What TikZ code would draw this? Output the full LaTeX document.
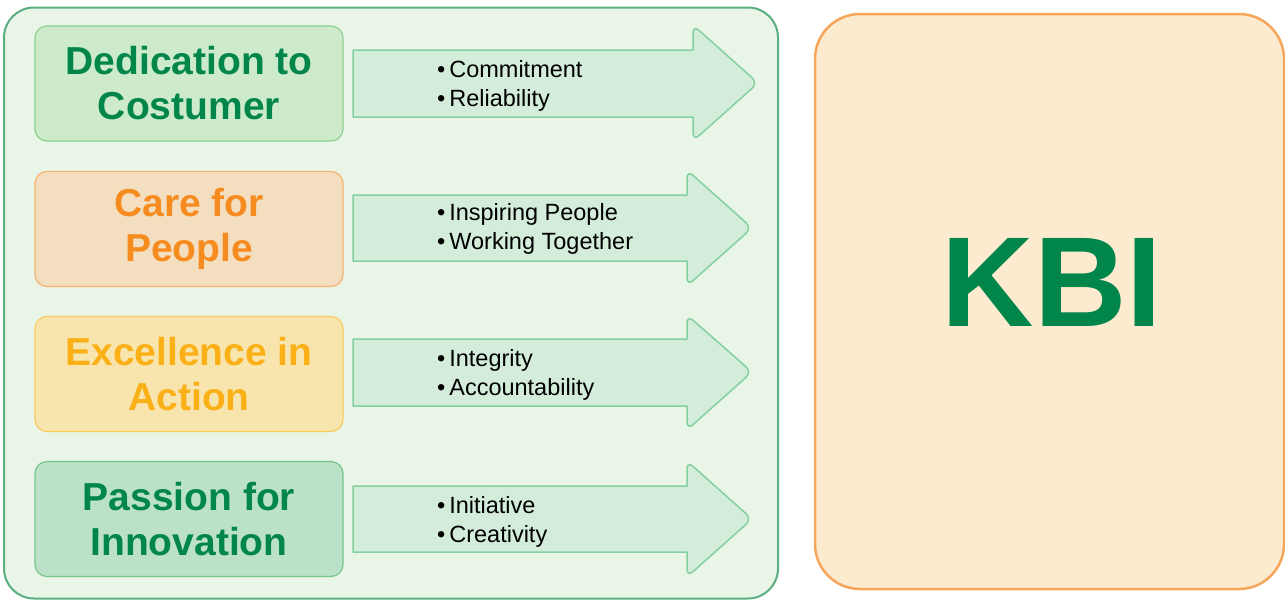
\documentclass[tikz,border=0pt]{standalone}
\usepackage{fontspec}
\setmainfont{Liberation Sans}
\definecolor{framefill}{HTML}{E8F5E7}
\definecolor{framedraw}{HTML}{5BAE80}
\definecolor{kbifill}{HTML}{FDEBCF}
\definecolor{kbidraw}{HTML}{F6A65B}
\definecolor{kbigreen}{HTML}{00854A}
\definecolor{arrowfill}{HTML}{D4EDDB}
\definecolor{arrowdraw}{HTML}{84D0A0}
\definecolor{dedfill}{HTML}{CDEBCB}
\definecolor{deddraw}{HTML}{8BD08E}
\definecolor{carefill}{HTML}{F3DFC0}
\definecolor{caredraw}{HTML}{F5B26E}
\definecolor{caretext}{HTML}{F68B1F}
\definecolor{excfill}{HTML}{F8E5AE}
\definecolor{excdraw}{HTML}{FBCB5E}
\definecolor{exctext}{HTML}{FBB017}
\definecolor{pasfill}{HTML}{BBE1C8}
\definecolor{pasdraw}{HTML}{78C68A}
\begin{document}
\begin{tikzpicture}[x=1pt,y=-1pt]
	\tikzstyle{valbox}=[rectangle,rounded corners=12pt,line width=1.2pt,minimum width=308pt,minimum height=115pt,inner sep=0pt,align=center,font=\fontsize{39}{45}\selectfont\bfseries]
	\tikzstyle{arrowbox}=[fill=arrowfill,draw=arrowdraw,line width=1.5pt,line join=round]
	%\tikzstyle{arrowbox}=[fill=arrowfill,draw=arrowdraw,line width=1pt]
	\tikzstyle{points}=[anchor=west,align=left,inner sep=0pt,font=\fontsize{23.5}{29}\selectfont]
	\useasboundingbox (0,0) rectangle (1285,600);
	\node[rectangle,rounded corners=30pt,fill=framefill,draw=framedraw,line width=2pt,minimum width=774pt,minimum height=591pt] (frame) at (391,303) {};
	\node[rectangle,rounded corners=45pt,fill=kbifill,draw=kbidraw,line width=2.5pt,minimum width=469pt,minimum height=575pt] (kbi) at (1049.5,301.5) {};
	\node[text=kbigreen,font=\fontsize{128}{128}\selectfont\bfseries] (kbi-text) at (1052,282) {KBI};
	% values
	\node[valbox,fill=dedfill,draw=deddraw,text=kbigreen] (V-dedication) at (189,83.5) {Dedication to\\Costumer};
	\node[valbox,fill=carefill,draw=caredraw,text=caretext] (V-care) at (189,229) {Care for\\People};
	\node[valbox,fill=excfill,draw=excdraw,text=exctext] (V-excellence) at (189,374) {Excellence in\\Action};
	\node[valbox,fill=pasfill,draw=pasdraw,text=kbigreen] (V-passion) at (189,519) {Passion for\\Innovation};
	% arrows
	\draw[arrowbox] (353,50) -- (693,50) [rounded corners=8pt] -- (693,25) -- (758,83) -- (693,141) [sharp corners] -- (693,117) -- (353,117) -- cycle;
	\draw[arrowbox] (353,195) -- (687,195) [rounded corners=8pt] -- (687,170) -- (752,228) -- (687,286) [sharp corners] -- (687,261) -- (353,261) -- cycle;
	\draw[arrowbox] (353,339) -- (687,339) [rounded corners=8pt] -- (687,315) -- (752,372) -- (687,430) [sharp corners] -- (687,406) -- (353,406) -- cycle;
	\draw[arrowbox] (353,486) -- (687,486) [rounded corners=8pt] -- (687,461) -- (752,519) -- (687,577) [sharp corners] -- (687,552) -- (353,552) -- cycle;
	\node[points] (P-dedication) at (437,86) {\textbullet\,Commitment\\\textbullet\,Reliability};
	\node[points] (P-care) at (437,229) {\textbullet\,Inspiring People\\\textbullet\,Working Together};
	\node[points] (P-excellence) at (437,375) {\textbullet\,Integrity\\\textbullet\,Accountability};
	\node[points] (P-passion) at (437,522) {\textbullet\,Initiative\\\textbullet\,Creativity};
\end{tikzpicture}
\end{document}
